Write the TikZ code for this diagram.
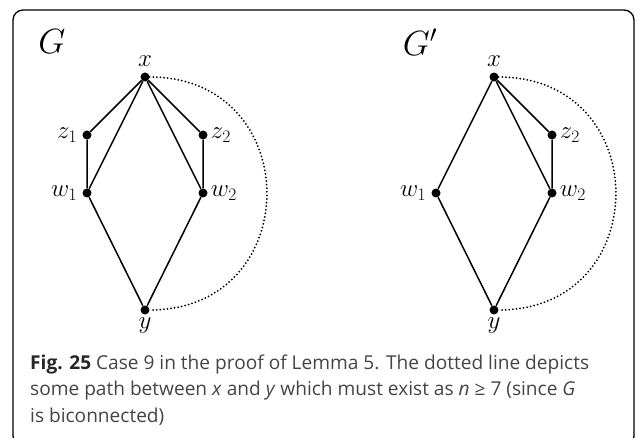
\RequirePackage{fix-cm}
\documentclass[tikz,border=0pt]{standalone}
\usepackage{fontspec}
\newfontfamily\capfont{Open Sans}
\usetikzlibrary{positioning}
\definecolor{captext}{HTML}{444444}

\tikzset{
  vtx/.style={circle, fill=black, inner sep=0pt, minimum size=9pt},
  edge/.style={line width=1.5pt},
  pathdots/.style={line width=2pt, line cap=round, dash pattern=on 0pt off 3.6pt},
  lbl/.style={inner sep=1pt, font=\fontsize{25}{25}\selectfont},
  glbl/.style={font=\fontsize{35}{35}\selectfont}
}

\begin{document}
\begin{tikzpicture}[x=1pt, y=-1pt]
  \useasboundingbox (0,0) rectangle (637,438);
  \clip (0,0) rectangle (637,438);
  \draw[line width=1.3pt, rounded corners=10pt] (13,10) rectangle (634,446);

  % graph G
  \node[glbl] (G) at (52,42) {$G$};
  \node[vtx] (x) at (145,77) {};
  \node[vtx] (z1) at (87,135) {};
  \node[vtx] (z2) at (203,135) {};
  \node[vtx] (w1) at (87,193) {};
  \node[vtx] (w2) at (203,193) {};
  \node[vtx] (y) at (145,310) {};
  \node[lbl, above=5pt of x] {$x$};
  \node[lbl, left=4pt of z1] {$z_1$};
  \node[lbl, right=2pt of z2] {$z_2$};
  \node[lbl, left=4pt of w1] {$w_1$};
  \node[lbl, right=2pt of w2] {$w_2$};
  \node[lbl, below=2pt of y] {$y$};
  \draw[edge] (x) -- (z1) -- (w1) -- (y) -- (w2) -- (z2) -- (x);
  \draw[edge] (x) -- (w1);
  \draw[edge] (x) -- (w2);
  \draw[pathdots] (x) to[out=0, in=0, looseness=1.72] (y);

  % graph G'
  \node[glbl] (Gp) at (420,42) {$G'$};
  \node[vtx] (xp) at (494,77) {};
  \node[vtx] (z2p) at (552,135) {};
  \node[vtx] (w1p) at (436,193) {};
  \node[vtx] (w2p) at (552,193) {};
  \node[vtx] (yp) at (494,310) {};
  \node[lbl, above=5pt of xp] {$x$};
  \node[lbl, right=2pt of z2p] {$z_2$};
  \node[lbl, left=4pt of w1p] {$w_1$};
  \node[lbl, right=2pt of w2p] {$w_2$};
  \node[lbl, below=2pt of yp] {$y$};
  \draw[edge] (xp) -- (w1p) -- (yp) -- (w2p) -- (z2p) -- (xp);
  \draw[edge] (xp) -- (w2p);
  \draw[pathdots] (xp) to[out=0, in=0, looseness=1.72] (yp);

  % caption (base = last line)
  \node[anchor=base west, align=left, inner sep=0pt, text=captext,
        font=\capfont\fontsize{19.1}{26.5}\selectfont] (cap) at (30,422)
    {\textbf{\color{black!85}Fig. 25} Case 9 in the proof of Lemma 5. The dotted line depicts\\
     some path between \textit{x} and \textit{y} which must exist as \textit{n} ≥ 7 (since \textit{G}\\
     is biconnected)};
\end{tikzpicture}
\end{document}
